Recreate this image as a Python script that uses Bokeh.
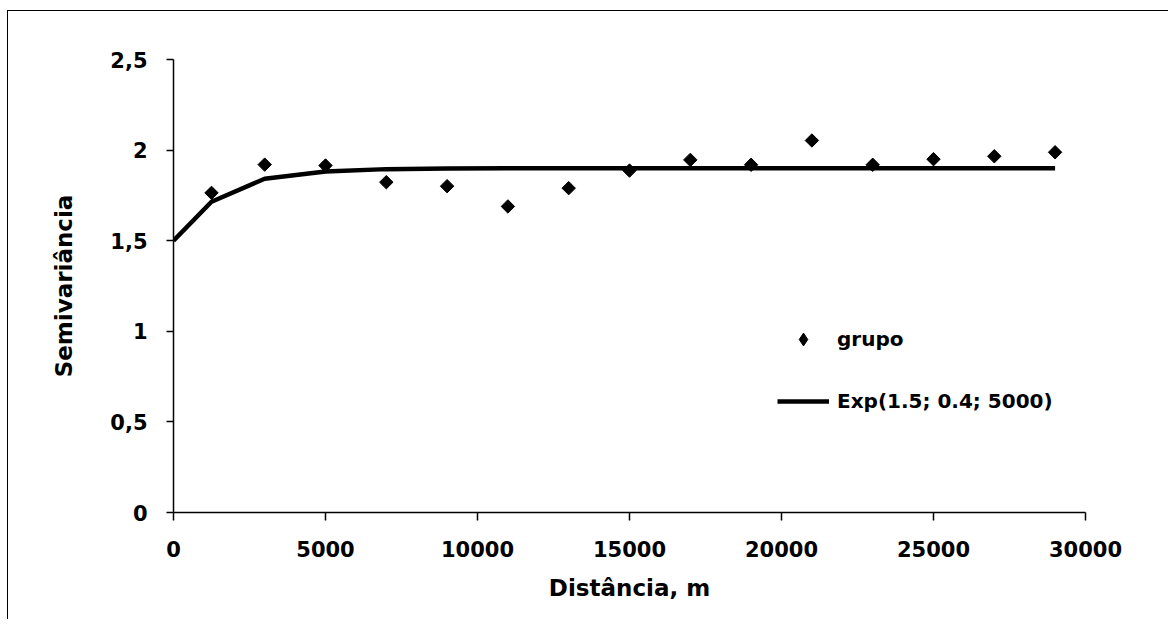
import numpy as np
from bokeh.plotting import figure
from bokeh.models import Range1d, FixedTicker, Legend, LegendItem, ColumnDataSource
from bokeh.embed import file_html
from bokeh.resources import INLINE

# Experimental semivariogram points
dist_points = [1250, 3000, 5000, 7000, 9000, 11000, 13000, 15000,
               17000, 19000, 21000, 23000, 25000, 27000, 29000]
semivar_points = [1.764, 1.920, 1.915, 1.823, 1.801, 1.689, 1.790, 1.887,
                  1.946, 1.919, 2.053, 1.919, 1.950, 1.966, 1.988]

# Fitted exponential model
dist_model = [0, 1250, 3000, 5000, 7000, 9000, 11000, 13000, 15000,
              17000, 19000, 21000, 23000, 25000, 27000, 29000]
semivar_model = [1.50, 1.715, 1.842, 1.882, 1.895, 1.899, 1.900, 1.900, 1.900,
                 1.900, 1.900, 1.900, 1.900, 1.900, 1.900, 1.900]

x_ticks = [0, 5000, 10000, 15000, 20000, 25000, 30000]
x_tick_labels = ["0", "5000", "10000", "15000", "20000", "25000", "30000"]
y_ticks = [0, 0.5, 1, 1.5, 2, 2.5]
y_tick_labels = ["0", "0,5", "1", "1,5", "2", "2,5"]

series_labels = ["grupo", "Exp(1.5; 0.4; 5000)"]
x_title = "Distância, m"
y_title = "Semivariância"

FONT = "DejaVu Sans"

p = figure(width=1168, height=619,
           min_border_left=173, min_border_right=83,
           min_border_top=59, min_border_bottom=107,
           x_range=Range1d(0, 30000), y_range=Range1d(0, 2.5),
           output_backend="svg", toolbar_location=None)

# chart-area border (left and top edges visible in the picture)
p.styles = {
    "background-color": "white",
    "background-image": "linear-gradient(black, black), linear-gradient(black, black)",
    "background-size": "1px 100%, 100% 1px",
    "background-position": "7px 10px, 7px 10px",
    "background-repeat": "no-repeat",
}

p.xgrid.visible = False
p.ygrid.visible = False
p.outline_line_color = None
p.background_fill_color = None
p.border_fill_color = None

r_line = p.line(dist_model, semivar_model, line_color="black", line_width=4.5)
pts_src = ColumnDataSource(dict(x=dist_points, y=semivar_points,
                                ang=[np.pi / 4] * len(dist_points)))
r_pts = p.scatter("x", "y", source=pts_src, marker="square", angle="ang",
                  size=9.5, fill_color="black", line_color="black")
# legend swatch renderer (diamond shape), not drawn in the plot itself
r_leg = p.scatter("x", "y", source=pts_src, marker="diamond",
                  fill_color="black", line_color="black", visible=False)

p.xaxis.ticker = FixedTicker(ticks=x_ticks)
p.xaxis.major_label_overrides = dict(zip(x_ticks, x_tick_labels))
p.yaxis.ticker = FixedTicker(ticks=y_ticks)
p.yaxis.major_label_overrides = dict(zip(y_ticks, y_tick_labels))

for ax in (p.xaxis[0], p.yaxis[0]):
    ax.axis_line_color = "black"
    ax.axis_line_width = 1.5
    ax.major_tick_line_color = "black"
    ax.major_tick_line_width = 1.5
    ax.major_tick_in = 0
    ax.major_tick_out = 8
    ax.minor_tick_out = 0
    ax.minor_tick_in = 0
    ax.major_label_text_font = FONT
    ax.major_label_text_font_size = "21px"
    ax.major_label_text_font_style = "bold"
    ax.major_label_text_color = "black"
    ax.axis_label_text_font = FONT
    ax.axis_label_text_font_size = "23px"
    ax.axis_label_text_font_style = "bold"
    ax.axis_label_text_color = "black"

p.xaxis.axis_label = x_title
p.yaxis.axis_label = y_title
p.xaxis.major_label_standoff = 20
p.yaxis.major_label_standoff = 19
p.xaxis.axis_label_standoff = 15
p.yaxis.axis_label_standoff = 30
p.yaxis.major_tick_out = 7

legend = Legend(items=[LegendItem(label=series_labels[0], renderers=[r_leg]),
                       LegendItem(label=series_labels[1], renderers=[r_line])],
                location=(604, 95), orientation="vertical",
                glyph_width=52, glyph_height=32, label_height=32,
                spacing=30, padding=0, margin=0, label_standoff=8,
                border_line_color=None, background_fill_alpha=0,
                label_text_font=FONT, label_text_font_size="20px",
                label_text_font_style="bold", label_text_color="black")
p.add_layout(legend)

open("out.html", "w").write(file_html(p, INLINE))
